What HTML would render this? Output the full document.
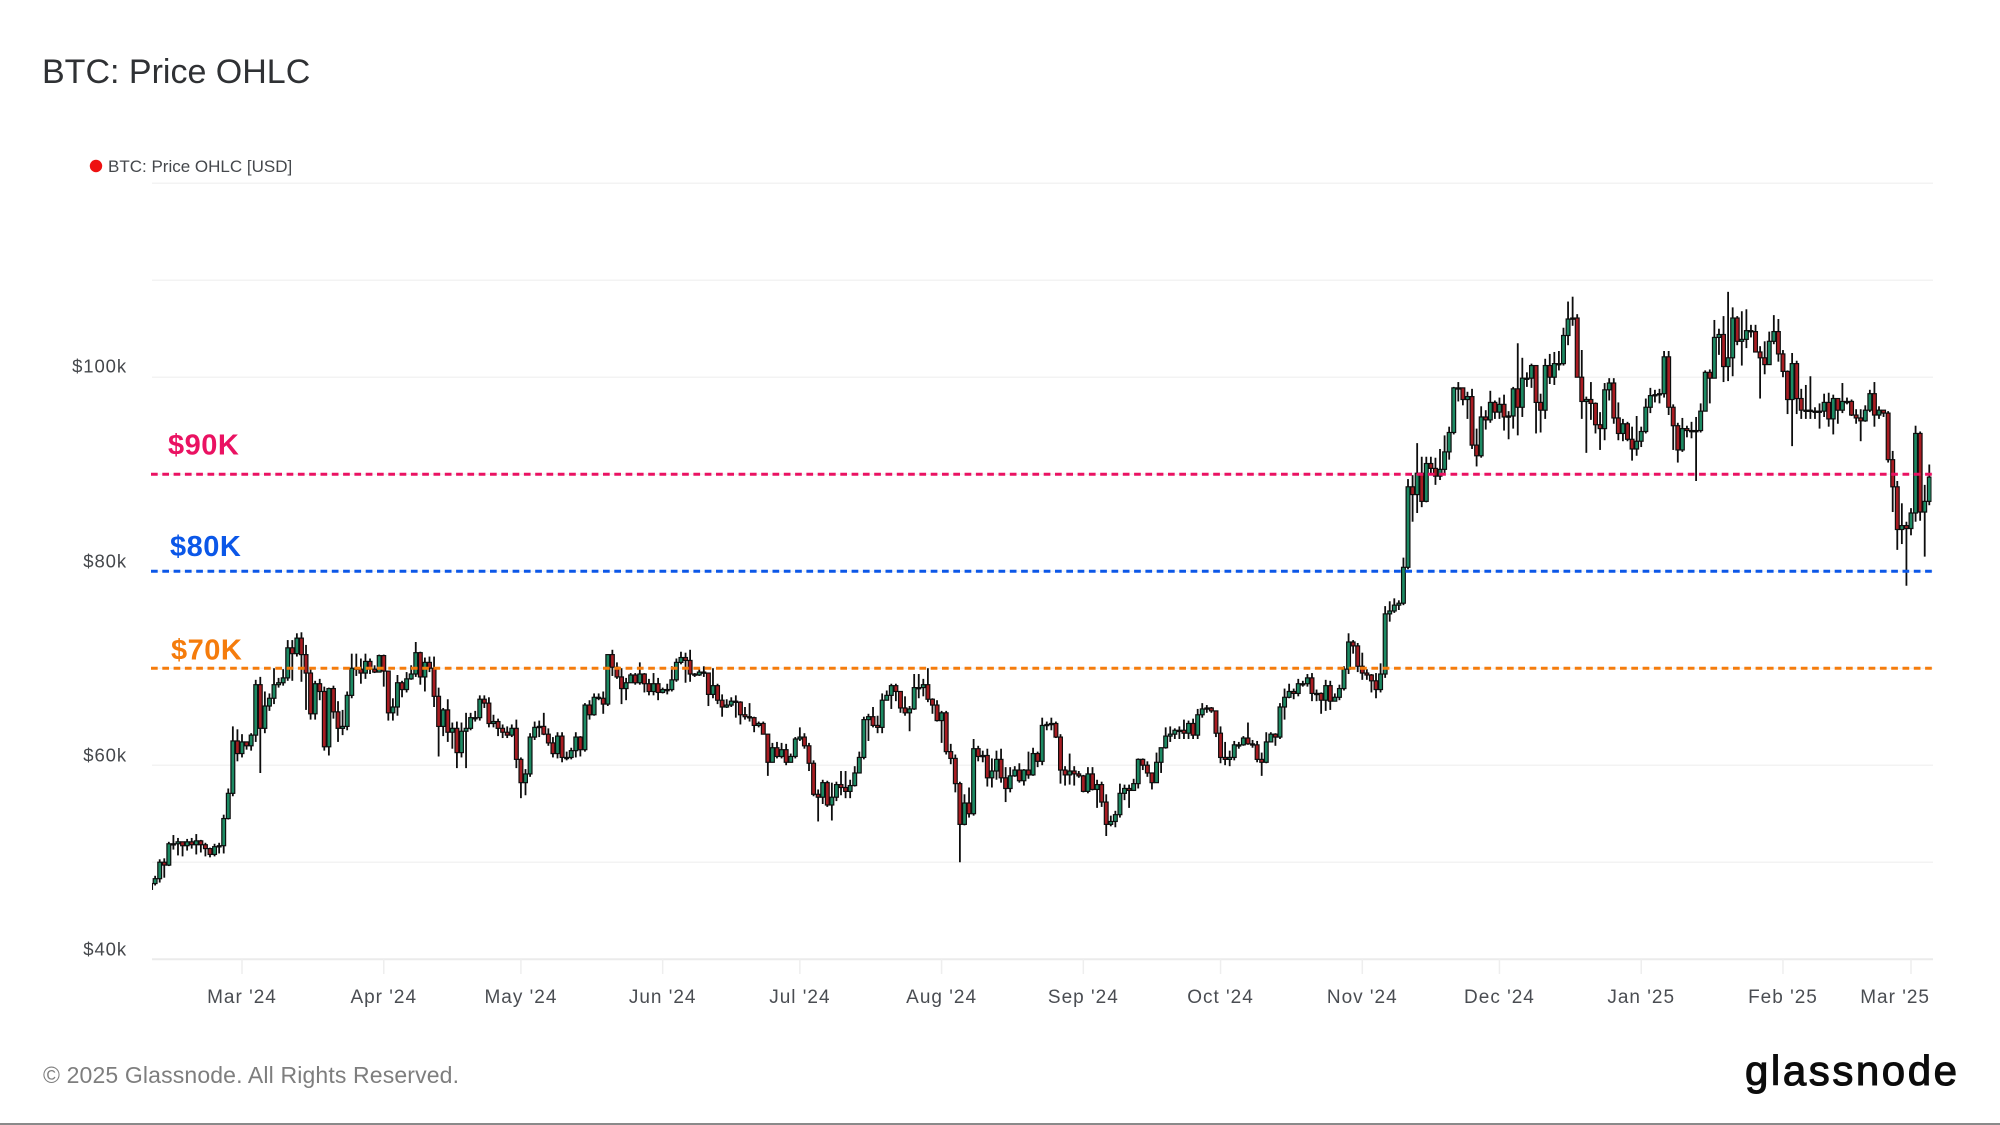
<!DOCTYPE html>
<html lang="en">
<head>
<meta charset="utf-8">
<title>BTC: Price OHLC</title>
<style>
html,body{margin:0;padding:0;background:#fff;}
body{width:2000px;height:1125px;overflow:hidden;}
svg{display:block;font-family:"Liberation Sans",sans-serif;}
</style>
</head>
<body>
<svg id="chart" xmlns="http://www.w3.org/2000/svg" width="2000" height="1125" viewBox="0 0 2000 1125">
  <rect x="0" y="0" width="2000" height="1125" fill="#ffffff"/>
  <text x="42" y="83" font-size="34" fill="#2f3134">BTC: Price OHLC</text>
  <g>
    <circle cx="96" cy="166" r="6.2" fill="#ee1111"/>
    <text x="108" y="172" font-size="17" fill="#45484c">BTC: Price OHLC [USD]</text>
  </g>
  <g id="grid"></g>
  <g id="xAxis"></g>
  <g id="yAxis"></g>
  <defs>
    <clipPath id="plotClip"><rect x="152" y="170" width="1781" height="800"/></clipPath>
    <filter id="soften" x="0" y="0" width="100%" height="100%"><feGaussianBlur stdDeviation="0.35"/></filter>
  </defs>
  <g clip-path="url(#plotClip)">
    <g id="candles" filter="url(#soften)"></g>
  </g>
  <g id="levels"></g>
  <text x="43" y="1083" font-size="23" fill="#7e7e7e" textLength="416" lengthAdjust="spacing">© 2025 Glassnode. All Rights Reserved.</text>
  <text x="1745" y="1085" font-size="42" fill="#0c0c0c" stroke="#0c0c0c" stroke-width="1.1" textLength="212" lengthAdjust="spacing">glassnode</text>
  <rect x="0" y="1123" width="2000" height="2" fill="#8a8a8a"/>
</svg>
<script>
// Daily candles from startDate, one entry per day, values in $k
const startDate = '2024-02-10';

const opens = [
47.2,47.8,48.3,50.0,49.7,51.9,51.9,52.1,51.7,52.1,51.8,52.2,51.8,51.4,50.8,51.6,51.7,54.5,57.1,62.5,
61.2,62.4,62.0,63.1,68.3,63.8,66.1,66.9,68.3,68.5,69.0,72.1,71.5,73.1,71.4,69.5,65.3,68.4,67.6,61.9,67.9,65.5,63.8,64.0,67.2,70.0,69.9,69.5,70.7,69.9,69.6,
71.3,69.7,65.4,66.0,68.5,67.8,68.9,69.4,71.6,69.1,70.6,70.0,67.1,64.0,65.7,63.4,63.8,61.3,63.5,63.8,64.9,64.9,66.8,66.4,64.3,64.5,63.8,63.4,63.1,63.8,
60.6,58.2,59.1,62.9,63.9,64.0,63.2,62.3,61.2,63.0,60.8,60.8,61.5,62.9,61.6,66.2,65.2,67.0,66.9,66.3,71.4,70.1,69.1,67.9,68.5,69.3,68.5,69.4,68.4,67.6,68.4,
67.5,67.8,67.8,68.8,70.6,71.1,70.8,69.4,69.3,69.6,69.5,67.3,68.2,66.7,66.0,66.2,66.6,66.5,65.2,65.0,64.9,64.1,64.3,63.2,60.3,61.8,60.9,61.6,60.3,60.9,
62.7,62.9,62.0,60.2,57.0,56.7,58.2,55.9,56.7,58.0,57.7,57.3,57.9,59.2,60.8,64.7,65.0,64.1,63.9,66.7,67.2,68.2,67.6,65.9,65.4,65.8,68.0,68.0,68.3,66.8,66.2,
64.6,65.4,61.4,60.7,58.1,53.9,56.1,55.0,61.7,60.9,61.0,58.7,59.4,60.6,58.7,57.6,58.9,59.5,58.4,59.5,59.0,61.2,60.4,64.1,64.2,64.3,62.9,59.5,59.0,59.4,59.1,
58.9,57.3,59.1,57.5,58.0,56.2,53.9,54.2,54.9,57.1,57.6,57.4,58.1,60.6,60.0,59.2,58.2,60.3,61.8,63.0,63.2,63.6,63.6,63.3,64.3,63.1,65.2,65.8,65.9,65.6,
63.3,60.8,60.6,60.8,62.1,62.1,62.8,62.2,62.1,60.6,60.3,62.4,63.2,62.9,66.0,67.0,67.6,67.4,68.4,68.4,69.0,67.4,67.4,66.7,68.2,66.6,67.0,67.9,69.9,72.7,72.3,
70.2,69.5,69.3,68.7,67.8,69.4,75.6,75.9,76.5,76.7,80.4,88.7,87.9,90.1,87.2,91.1,90.6,89.8,90.5,92.3,94.3,98.9,98.9,97.7,98.0,93.0,91.9,95.9,95.6,97.4,
96.4,97.2,95.9,96.0,98.8,96.9,99.9,99.9,101.2,97.4,96.6,101.2,100.0,101.4,101.4,104.3,106.0,106.1,100.0,97.5,97.7,97.3,95.1,94.7,98.7,99.4,95.8,94.2,95.2,93.6,92.6,
93.4,94.4,96.9,98.1,98.2,98.3,102.1,96.9,95.0,92.5,94.7,94.5,94.5,94.5,96.5,100.5,99.9,104.1,104.4,101.1,102.0,106.1,103.7,103.9,104.8,104.7,102.6,102.0,101.3,103.7,104.7,
102.4,100.6,97.7,101.4,97.8,96.6,96.6,96.5,96.4,96.5,97.4,95.7,97.8,96.6,97.5,97.5,96.1,95.8,95.5,96.6,98.3,96.1,96.6,96.3,91.5,88.7,84.3,84.7,
84.4,86.0,94.2,86.1,87.2
];

const highs = [
48.6,48.6,50.3,50.4,52.1,52.8,52.5,52.0,52.4,52.5,52.9,52.3,52.0,51.5,51.9,52.0,54.9,57.6,64.0,63.7,
63.2,62.4,63.3,68.8,69.1,67.6,67.4,70.0,69.0,69.9,72.9,72.9,73.6,73.7,72.4,70.0,68.7,68.9,68.1,68.0,68.2,66.6,65.7,67.6,71.5,71.5,71.0,71.5,71.0,70.3,71.4,
71.4,69.6,66.9,69.3,68.7,69.6,70.3,72.7,71.7,71.1,71.2,71.2,68.0,65.9,66.8,64.4,64.5,64.4,65.4,65.4,65.6,67.2,67.2,67.0,65.2,64.8,64.2,64.0,64.2,64.7,
60.8,59.6,63.3,64.5,64.6,65.4,63.8,62.9,63.4,63.4,61.4,61.8,63.4,63.0,66.4,66.7,67.4,67.4,67.6,71.4,71.9,70.6,70.0,69.0,69.5,69.5,70.6,69.5,68.9,69.5,69.0,
68.0,68.4,70.2,71.0,71.7,71.6,71.9,69.5,69.9,70.2,69.5,70.0,68.4,67.3,66.8,67.0,67.2,66.6,66.0,66.4,65.0,64.5,64.5,62.4,62.3,62.4,62.3,62.2,61.2,62.9,
63.9,63.3,62.3,60.5,57.5,58.5,58.4,58.2,58.3,59.4,59.4,58.5,59.9,61.4,65.0,65.3,66.0,65.1,67.4,67.7,68.4,68.4,67.0,67.1,66.1,69.4,69.4,68.9,70.0,66.9,66.7,
65.6,65.6,62.2,61.1,58.3,57.0,57.7,62.7,62.0,61.5,61.7,60.7,61.5,61.7,59.8,59.8,59.9,60.2,59.6,61.4,61.8,61.4,64.9,64.5,64.9,64.5,63.2,59.9,61.2,59.9,59.4,
59.0,59.8,59.8,58.5,58.3,57.0,54.8,55.3,58.1,58.0,58.0,58.6,60.7,60.7,60.4,59.2,61.3,61.8,63.9,64.0,63.8,64.0,64.7,64.6,64.8,65.8,66.4,66.2,66.0,65.6,
64.0,62.4,61.5,62.5,62.4,63.0,64.4,62.6,62.5,61.3,63.4,63.4,63.3,66.4,67.9,68.4,67.9,68.9,68.7,69.4,69.5,67.8,67.5,68.8,68.7,67.4,68.3,70.2,73.6,72.9,72.6,
71.6,69.9,69.4,69.5,70.5,76.4,76.9,77.2,77.0,81.4,89.5,89.9,93.2,91.8,91.8,91.8,91.7,92.6,94.0,94.9,99.0,99.5,98.9,98.5,98.8,94.7,97.0,96.6,98.6,97.6,
97.9,98.2,96.5,99.0,103.5,102.0,100.5,101.4,101.2,98.3,101.9,102.4,102.6,102.7,105.1,107.8,108.3,106.5,102.8,98.0,99.5,97.4,96.4,99.4,99.9,99.9,97.4,95.7,95.4,94.9,96.0,
94.9,97.8,98.9,98.7,98.8,102.7,102.7,97.2,95.3,95.8,95.0,95.4,95.9,97.3,100.7,100.8,105.9,105.0,106.3,108.8,107.2,106.3,106.8,107.0,105.4,105.4,103.2,103.7,104.7,106.4,106.0,
102.8,100.7,102.5,101.7,98.8,99.2,100.1,96.9,97.3,98.3,98.4,98.2,97.2,99.4,97.9,97.7,96.7,96.7,97.1,98.7,99.5,97.0,96.4,96.5,92.4,89.3,87.0,85.1,
86.5,95.0,94.4,88.9,91.0
];

const lows = [
47.0,47.6,47.9,48.4,49.6,51.3,50.7,50.6,51.2,51.4,50.8,51.0,50.6,50.5,50.6,50.9,50.9,54.4,56.8,60.4,
60.8,61.6,61.5,62.4,59.2,63.3,65.6,66.3,68.0,68.2,68.7,68.7,71.2,68.6,65.7,64.7,64.7,66.7,61.5,61.0,64.8,62.4,63.1,63.6,66.9,69.2,68.4,68.9,69.4,69.5,69.7,
68.1,64.6,64.6,65.1,67.0,67.5,68.8,69.1,68.3,67.6,69.6,66.0,60.9,63.0,62.4,61.7,59.7,60.8,59.7,63.6,64.5,64.6,65.9,63.9,63.9,63.0,62.8,62.8,62.9,59.7,
56.6,56.9,58.8,62.6,62.9,63.1,62.0,60.8,60.7,60.3,60.5,60.6,60.8,60.9,61.4,64.7,65.1,66.7,65.3,66.1,69.2,68.9,66.3,66.7,68.9,68.3,68.3,67.5,67.2,67.2,66.7,
67.4,67.3,67.6,68.6,70.4,68.5,68.6,69.1,69.2,69.1,66.1,66.9,66.3,65.0,65.9,66.0,64.9,64.2,64.7,64.5,63.4,63.9,63.2,58.9,60.3,60.7,60.7,60.0,60.4,60.7,
62.5,61.7,59.4,56.8,54.2,56.0,55.7,54.3,56.3,56.9,56.6,56.6,57.8,59.5,60.6,62.5,63.9,63.3,63.3,66.7,65.8,66.6,65.4,65.1,63.5,65.7,66.9,67.1,66.5,65.3,64.5,
62.3,61.1,60.1,57.2,50.0,53.8,54.6,54.8,60.4,60.3,57.8,57.7,58.5,58.2,56.2,57.2,58.8,58.2,57.9,58.6,58.9,59.8,60.0,63.6,63.6,62.8,58.1,57.9,58.0,57.9,58.7,
57.2,57.1,57.4,55.6,55.7,52.7,53.7,53.6,54.6,56.4,55.6,57.4,57.6,59.5,58.8,57.5,58.4,59.2,61.7,62.4,62.7,62.7,62.7,62.7,62.7,62.7,64.9,65.4,65.4,62.9,
60.2,60.0,59.9,60.5,61.7,62.0,62.1,61.8,60.3,58.9,60.2,62.4,62.0,62.7,64.7,66.9,66.8,67.1,68.1,68.1,66.6,66.6,65.3,65.6,65.7,66.6,66.7,67.7,69.4,71.5,69.6,
68.8,68.8,67.5,66.9,67.5,69.0,74.8,75.7,76.0,76.5,80.2,85.1,86.0,86.6,87.1,90.1,88.9,89.4,90.0,91.5,94.1,97.5,97.1,95.7,92.6,90.8,91.7,94.6,95.3,95.7,
95.7,94.5,93.6,94.7,94.0,95.9,99.0,98.9,94.2,94.3,95.7,99.3,99.2,100.7,101.2,103.3,105.3,100.0,95.7,92.2,95.6,94.2,92.5,93.5,97.6,95.2,93.5,93.4,93.4,91.4,91.9,
92.8,94.2,96.3,97.4,97.3,97.9,96.1,92.5,91.2,92.3,93.8,93.7,89.3,94.3,96.5,97.3,99.9,102.3,99.5,99.6,100.1,103.3,101.2,103.0,104.1,102.6,97.8,100.3,101.3,103.4,101.6,
100.0,96.2,92.9,96.2,95.7,95.7,95.7,95.7,94.7,95.9,94.9,94.1,95.2,96.3,97.2,96.0,95.2,93.4,95.4,96.4,94.9,95.7,95.9,91.2,86.1,82.2,82.8,78.5,
83.7,85.1,85.2,81.5,86.8
];

const closes = [
47.8,48.3,50.0,49.7,51.9,51.9,52.1,51.7,52.1,51.8,52.2,51.8,51.4,50.8,51.6,51.7,54.5,57.1,62.5,61.2,
62.4,62.0,63.1,68.3,63.8,66.1,66.9,68.3,68.5,69.0,72.1,71.5,73.1,71.4,69.5,65.3,68.4,67.6,61.9,67.9,65.5,63.8,64.0,67.2,70.0,69.9,69.5,70.7,69.9,69.6,71.3,
69.7,65.4,66.0,68.5,67.8,68.9,69.4,71.6,69.1,70.6,70.0,67.1,64.0,65.7,63.4,63.8,61.3,63.5,63.8,64.9,64.9,66.8,66.4,64.3,64.5,63.8,63.4,63.1,63.8,60.6,
58.2,59.1,62.9,63.9,64.0,63.2,62.3,61.2,63.0,60.8,60.8,61.5,62.9,61.6,66.2,65.2,67.0,66.9,66.3,71.4,70.1,69.1,67.9,68.5,69.3,68.5,69.4,68.4,67.6,68.4,67.5,
67.8,67.8,68.8,70.6,71.1,70.8,69.4,69.3,69.6,69.5,67.3,68.2,66.7,66.0,66.2,66.6,66.5,65.2,65.0,64.9,64.1,64.3,63.2,60.3,61.8,60.9,61.6,60.3,60.9,62.7,
62.9,62.0,60.2,57.0,56.7,58.2,55.9,56.7,58.0,57.7,57.3,57.9,59.2,60.8,64.7,65.0,64.1,63.9,66.7,67.2,68.2,67.6,65.9,65.4,65.8,68.0,68.0,68.3,66.8,66.2,64.6,
65.4,61.4,60.7,58.1,53.9,56.1,55.0,61.7,60.9,61.0,58.7,59.4,60.6,58.7,57.6,58.9,59.5,58.4,59.5,59.0,61.2,60.4,64.1,64.2,64.3,62.9,59.5,59.0,59.4,59.1,58.9,
57.3,59.1,57.5,58.0,56.2,53.9,54.2,54.9,57.1,57.6,57.4,58.1,60.6,60.0,59.2,58.2,60.3,61.8,63.0,63.2,63.6,63.6,63.3,64.3,63.1,65.2,65.8,65.9,65.6,63.3,
60.8,60.6,60.8,62.1,62.1,62.8,62.2,62.1,60.6,60.3,62.4,63.2,62.9,66.0,67.0,67.6,67.4,68.4,68.4,69.0,67.4,67.4,66.7,68.2,66.6,67.0,67.9,69.9,72.7,72.3,70.2,
69.5,69.3,68.7,67.8,69.4,75.6,75.9,76.5,76.7,80.4,88.7,87.9,90.1,87.2,91.1,90.6,89.8,90.5,92.3,94.3,98.9,98.9,97.7,98.0,93.0,91.9,95.9,95.6,97.4,96.4,
97.2,95.9,96.0,98.8,96.9,99.9,99.9,101.2,97.4,96.6,101.2,100.0,101.4,101.4,104.3,106.0,106.1,100.0,97.5,97.7,97.3,95.1,94.7,98.7,99.4,95.8,94.2,95.2,93.6,92.6,93.4,
94.4,96.9,98.1,98.2,98.3,102.1,96.9,95.0,92.5,94.7,94.5,94.5,94.5,96.5,100.5,99.9,104.1,104.4,101.1,102.0,106.1,103.7,103.9,104.8,104.7,102.6,102.0,101.3,103.7,104.7,102.4,
100.6,97.7,101.4,97.8,96.6,96.6,96.5,96.4,96.5,97.4,95.7,97.8,96.6,97.5,97.5,96.1,95.8,95.5,96.6,98.3,96.1,96.6,96.3,91.5,88.7,84.3,84.7,84.4,
86.0,94.2,86.1,87.2,89.7
];

const gridValues = [40,50,60,70,80,90,100,110,120];
const yTickValues = [40,60,80,100];
const yTickLabels = ['$40k','$60k','$80k','$100k'];
const xTickDates = ['2024-03-01','2024-04-01','2024-05-01','2024-06-01','2024-07-01','2024-08-01','2024-09-01','2024-10-01','2024-11-01','2024-12-01','2025-01-01','2025-02-01','2025-03-01'];
const xTickLabels = ["Mar '24","Apr '24","May '24","Jun '24","Jul '24","Aug '24","Sep '24","Oct '24","Nov '24","Dec '24","Jan '25","Feb '25","Mar '25"];
const levelValues = [90,80,70];
const levelLabels = ['$90K','$80K','$70K'];
const levelColors = ['#ea1262','#0b57e8','#f57c0c'];

const NS = 'http://www.w3.org/2000/svg';
const DAY = 86400000;
const PLOT_LEFT = 152, PLOT_RIGHT = 1933;

function xScale(dateMs) {
  return 242 + (dateMs - Date.UTC(2024, 2, 1)) / DAY * (1911 - 242) / 365;
}
function yScale(v) {
  return 959.2 - (v - 40) * 9.7;
}
function make(tag, attrs, parent) {
  const el = document.createElementNS(NS, tag);
  for (const k in attrs) el.setAttribute(k, attrs[k]);
  parent.appendChild(el);
  return el;
}

const gridG = document.getElementById('grid');
gridValues.forEach(function (v) {
  const line = make('line', {x1: PLOT_LEFT, x2: PLOT_RIGHT, y1: yScale(v), y2: yScale(v),
    stroke: v === 40 ? '#ebebeb' : '#f3f3f3', 'stroke-width': v === 40 ? 2 : 1.5}, gridG);
  
  
});

const yG = document.getElementById('yAxis');
yTickValues.forEach(function (v, i) {
  const t = make('text', {x: 127, y: yScale(v) - (v === 100 ? 4.5 : 3.8), 'text-anchor': 'end', 'font-size': 18.5,
    'letter-spacing': 0.9, fill: '#45484c'}, yG);
  
  
  t.textContent = yTickLabels[i];
});

const xG = document.getElementById('xAxis');
xTickDates.forEach(function (d, i) {
  const x = xScale(Date.parse(d + 'T00:00:00Z'));
  const tick = make('line', {x1: x, x2: x, y1: 959.2, y2: 974, stroke: '#eeeeee', 'stroke-width': 1.5}, xG);
  
  
  const isLast = i === xTickDates.length - 1;
  const t = make('text', {x: isLast ? 1930 : x, y: 1003, 'text-anchor': isLast ? 'end' : 'middle',
    'font-size': 19, 'letter-spacing': 1, fill: '#4a4d52'}, xG);
  
  
  t.textContent = xTickLabels[i];
});

const candleG = document.getElementById('candles');
const startMs = Date.parse(startDate + 'T00:00:00Z');
closes.forEach(function (c, i) {
  const o = opens[i];
  const x = xScale(startMs + i * DAY);
  const up = c >= o;
  const wick = make('line', {x1: x, x2: x, y1: yScale(highs[i]), y2: yScale(lows[i]), stroke: '#111111', 'stroke-width': 1.8}, candleG);
  
  
  const top = yScale(Math.max(o, c));
  const bottom = yScale(Math.min(o, c));
  const body = make('rect', {x: x - 1.9, y: top, width: 3.8, height: Math.max(bottom - top, 1.2),
    fill: up ? '#1c8a63' : '#a91f23', stroke: '#111111', 'stroke-width': 1.2}, candleG);
  
  
});

const levelG = document.getElementById('levels');
const levelLabelX = [168, 170, 171];
const levelLabelOffset = [-19.5, -15, -8.7];
levelValues.forEach(function (v, i) {
  const line = make('line', {x1: PLOT_LEFT - 1, x2: PLOT_RIGHT, y1: yScale(v), y2: yScale(v), stroke: levelColors[i],
    'stroke-width': 3, 'stroke-dasharray': '6.7 4.6'}, levelG);
  
  
  const t = make('text', {x: levelLabelX[i], y: yScale(v) + levelLabelOffset[i], 'font-size': 29, 'font-weight': 700,
    'letter-spacing': 0.5, fill: levelColors[i]}, levelG);
  
  
  t.textContent = levelLabels[i];
});
</script>
</body>
</html>
